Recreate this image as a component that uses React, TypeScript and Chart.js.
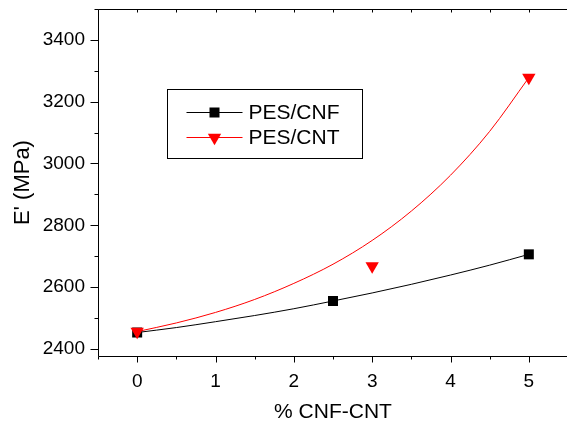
import React, { useEffect, useRef } from 'react';
import { Chart, registerables } from 'chart.js';

Chart.register(...registerables);

// ---- data ----
const seriesLabels = ['PES/CNF', 'PES/CNT'];
const cnfX = [0, 2.5, 5];
const cnfY = [2453, 2555, 2706];
const cntX = [0, 3, 5];
const cntY = [2456, 2668, 3278];
// fitted curves
const fitX = [0, 0.5, 1, 1.5, 2, 2.5, 3, 3.5, 4, 4.5, 5];
const cnfFitY = [2453, 2469, 2488, 2508, 2530, 2555, 2581, 2609, 2639, 2671, 2706];
const cntFitY = [2456, 2484, 2518, 2560, 2612, 2674, 2751, 2846, 2962, 3104, 3278];
const yTickValues = [2400, 2600, 2800, 3000, 3200, 3400];
const xTickValues = [0, 1, 2, 3, 4, 5];
const xTitle = '% CNF-CNT';
const yTitle = "E' (MPa)";

const FONT = "'Liberation Sans', Arial, Helvetica, sans-serif";
const BLACK = '#000000';
const RED = '#ff0000';

const framePlugin = {
  id: 'originFrame',
  afterDraw(chart: any) {
    const { ctx, chartArea: a, scales } = chart;
    const x = scales.x;
    const y = scales.y;
    const L = Math.round(a.left) + 0.5;
    const R = Math.round(a.right) + 0.5;
    const T = Math.round(a.top) + 0.5;
    const B = Math.round(a.bottom) + 0.5;
    ctx.save();
    ctx.strokeStyle = BLACK;
    ctx.lineWidth = 1;
    ctx.beginPath();
    ctx.rect(L, T, R - L, B - T);
    for (let v = Math.ceil(y.min / 100) * 100; v <= y.max; v += 100) {
      const py = Math.round(y.getPixelForValue(v)) + 0.5;
      const len = v % 200 === 0 ? 8 : 4;
      ctx.moveTo(L - len, py);
      ctx.lineTo(L, py);
    }
    for (let v = Math.ceil(x.min * 2) / 2; v <= x.max + 1e-9; v += 0.5) {
      const px = Math.round(x.getPixelForValue(v)) + 0.5;
      const major = Math.abs(v - Math.round(v)) < 1e-9;
      ctx.moveTo(px, B);
      ctx.lineTo(px, B + (major ? 6 : 3));
      ctx.moveTo(px, T);
      ctx.lineTo(px, T + 3);
    }
    ctx.stroke();
    ctx.restore();
  },
};

function drawMarker(ctx: CanvasRenderingContext2D, style: string, cx: number, cy: number, color: string) {
  ctx.fillStyle = color;
  if (style === 'rect') {
    ctx.fillRect(cx - 5, cy - 5, 10, 10);
  } else {
    const r = 7.7;
    ctx.beginPath();
    ctx.moveTo(cx, cy + r);
    ctx.lineTo(cx - r * 0.866, cy - r / 2);
    ctx.lineTo(cx + r * 0.866, cy - r / 2);
    ctx.closePath();
    ctx.fill();
  }
}

const boxLegendPlugin = {
  id: 'boxLegend',
  afterDraw(chart: any) {
    const { ctx, chartArea: a } = chart;
    const entries = chart.data.datasets.filter((d: any) => !d.isFit);
    entries.sort((p: any, q: any) => seriesLabels.indexOf(p.label) - seriesLabels.indexOf(q.label));
    const bx = Math.round(a.left + 69) + 0.5;
    const by = Math.round(a.top + 80) + 0.5;
    const bw = 195;
    const bh = 69;
    ctx.save();
    ctx.fillStyle = '#ffffff';
    ctx.fillRect(bx, by, bw, bh);
    ctx.strokeStyle = BLACK;
    ctx.lineWidth = 1;
    ctx.strokeRect(bx, by, bw, bh);
    entries.forEach((d: any, i: number) => {
      const ry = Math.round(by + 22 + i * 25) + 0.5;
      ctx.strokeStyle = d.borderColor;
      ctx.beginPath();
      ctx.moveTo(bx + 19, ry);
      ctx.lineTo(bx + 75, ry);
      ctx.stroke();
      drawMarker(ctx, d.pointStyle, bx + 47, ry, d.backgroundColor);
      ctx.fillStyle = BLACK;
      ctx.font = `21px ${FONT}`;
      ctx.textAlign = 'left';
      ctx.textBaseline = 'middle';
      ctx.fillText(d.label, bx + 81, ry + 1);
    });
    ctx.restore();
  },
};

export default function App() {
  const ref = useRef<HTMLCanvasElement | null>(null);

  useEffect(() => {
    const canvas = ref.current;
    if (!canvas) return;
    const pts = (xs: number[], ys: number[]) => xs.map((x, i) => ({ x, y: ys[i] }));
    const chart = new Chart(canvas, {
      type: 'scatter',
      data: {
        datasets: [
          {
            label: seriesLabels[1],
            data: pts(cntX, cntY),
            pointStyle: 'triangle',
            rotation: 180,
            pointRadius: 7.7,
            backgroundColor: RED,
            borderColor: RED,
            borderWidth: 0,
            showLine: false,
            order: 0,
          } as any,
          {
            label: seriesLabels[0],
            data: pts(cnfX, cnfY),
            pointStyle: 'rect',
            pointRadius: 7.07,
            backgroundColor: BLACK,
            borderColor: BLACK,
            borderWidth: 0,
            showLine: false,
            order: 1,
          } as any,
          {
            label: seriesLabels[1] + ' fit',
            isFit: true,
            data: pts(fitX, cntFitY),
            showLine: true,
            borderColor: RED,
            borderWidth: 1,
            pointRadius: 0,
            cubicInterpolationMode: 'monotone',
            order: 2,
          } as any,
          {
            label: seriesLabels[0] + ' fit',
            isFit: true,
            data: pts(fitX, cnfFitY),
            showLine: true,
            borderColor: BLACK,
            borderWidth: 1,
            pointRadius: 0,
            cubicInterpolationMode: 'monotone',
            order: 3,
          } as any,
        ],
      },
      options: {
        responsive: false,
        animation: false,
        events: [],
        layout: { padding: { left: 0, top: 9, right: 12, bottom: 0 } },
        plugins: { legend: { display: false }, tooltip: { enabled: false } },
        scales: {
          x: {
            type: 'linear',
            min: -0.5,
            max: 5.5,
            grid: { display: false, drawTicks: false },
            border: { display: false },
            afterBuildTicks: (s: any) => {
              s.ticks = xTickValues.map((v) => ({ value: v }));
            },
            afterFit: (s: any) => {
              s.height = 69;
              s.paddingLeft = 0;
              s.paddingRight = 0;
            },
            ticks: {
              color: BLACK,
              font: { family: FONT, size: 19 },
              padding: 14,
              maxRotation: 0,
              callback: (v: any) => String(v),
            },
            title: {
              display: true,
              text: xTitle,
              color: BLACK,
              font: { family: FONT, size: 21 },
              padding: { top: 0, bottom: 0 },
            },
          },
          y: {
            type: 'linear',
            min: 2377,
            max: 3500,
            grid: { display: false, drawTicks: false },
            border: { display: false },
            afterBuildTicks: (s: any) => {
              s.ticks = yTickValues.map((v) => ({ value: v }));
            },
            afterFit: (s: any) => {
              s.width = 98;
              s.paddingTop = 0;
              s.paddingBottom = 0;
            },
            ticks: {
              color: BLACK,
              font: { family: FONT, size: 19 },
              padding: 13,
              callback: (v: any) => String(v),
            },
            title: {
              display: true,
              text: yTitle,
              color: BLACK,
              font: { family: FONT, size: 22 },
              padding: { top: 10, bottom: 0 },
            },
          },
        },
      } as any,
      plugins: [framePlugin, boxLegendPlugin],
    });
    return () => chart.destroy();
  }, []);

  return (
    <div style={{ position: 'absolute', left: 0, top: 0, width: 567, height: 425, overflow: 'hidden', background: '#ffffff' }}>
      <canvas ref={ref} width={580} height={425} style={{ display: 'block', width: 580, height: 425 }} />
    </div>
  );
}
